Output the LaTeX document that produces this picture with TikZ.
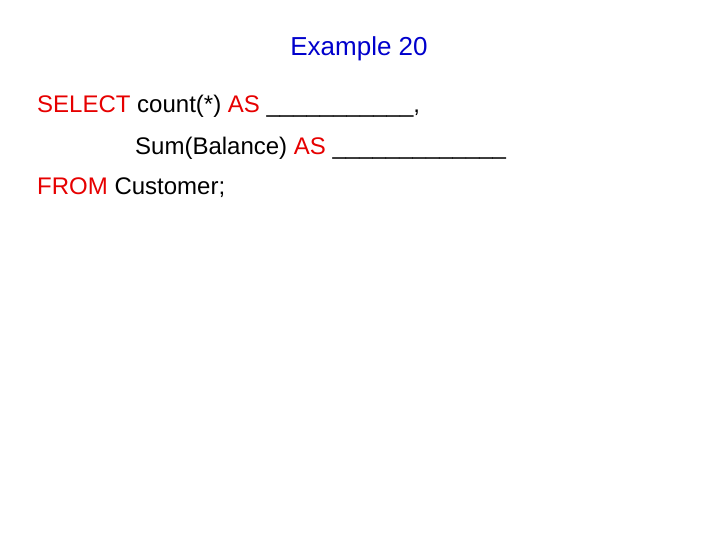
\documentclass[tikz,border=0pt]{standalone}
\usepackage{fontspec}
\setmainfont{Liberation Sans}
\definecolor{kwred}{RGB}{230,0,0}
\definecolor{titleblue}{RGB}{0,0,204}
\tikzset{sqlline/.style={anchor=base west,inner sep=0pt,font=\fontsize{24}{28}\selectfont}}
\begin{document}
\begin{tikzpicture}[x=1pt,y=-1pt]
\useasboundingbox (0,0) rectangle (720,540);
\node[anchor=base,inner sep=0pt,font=\fontsize{26}{30}\selectfont,text=titleblue] (title) at (359,56) {Example 20};
\node[sqlline] (line1) at (37,113) {\textcolor{kwred}{SELECT} count(*) \textcolor{kwred}{AS} \_\_\_\_\_\_\_\_\_\_\_,};
\node[sqlline] (line2) at (135,155) {Sum(Balance) \textcolor{kwred}{AS} \_\_\_\_\_\_\_\_\_\_\_\_\_};
\node[sqlline] (line3) at (37,195) {\textcolor{kwred}{FROM} Customer;};
\end{tikzpicture}
\end{document}
